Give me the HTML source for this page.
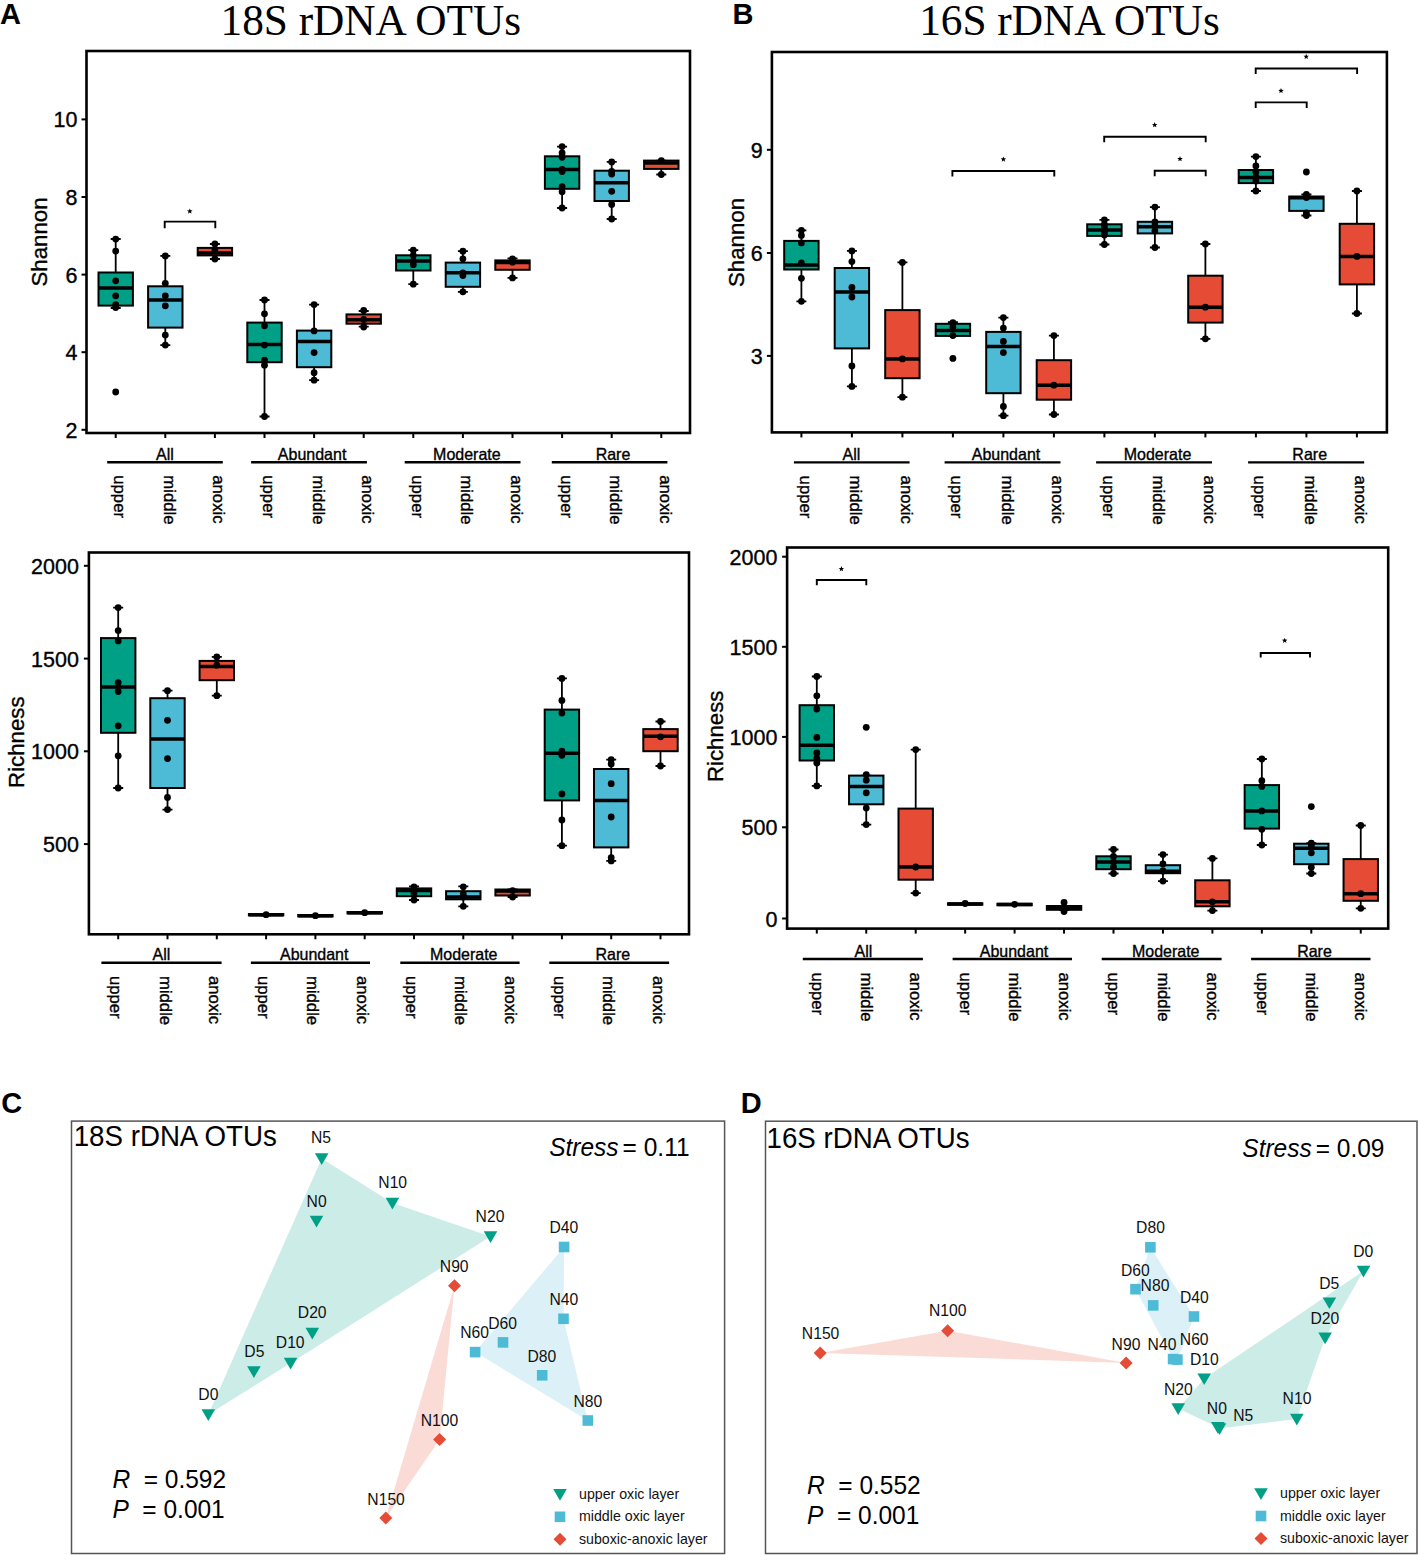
<!DOCTYPE html><html><head><meta charset="utf-8"><style>html,body{margin:0;padding:0;background:#fff;}svg{display:block;}</style></head><body>
<svg width="1418" height="1555" viewBox="0 0 1418 1555">
<rect width="1418" height="1555" fill="#fff"/>
<text x="0" y="23.9" font-size="29" font-weight="bold" font-family="Liberation Sans, sans-serif">A</text>
<text x="732.5" y="23.9" font-size="29" font-weight="bold" font-family="Liberation Sans, sans-serif">B</text>
<text x="1.3" y="1112.5" font-size="29" font-weight="bold" font-family="Liberation Sans, sans-serif">C</text>
<text x="740.7" y="1112.5" font-size="29" font-weight="bold" font-family="Liberation Sans, sans-serif">D</text>
<text transform="translate(220.5,35) scale(1,1.04)" font-size="43.3" font-family="Liberation Serif, serif">18S rDNA OTUs</text>
<text transform="translate(919.2,35) scale(1,1.04)" font-size="43.3" font-family="Liberation Serif, serif">16S rDNA OTUs</text>
<path d="M164.7 228.3V221.6H215.3V228.3" fill="none" stroke="#000" stroke-width="1.9"/>
<polygon points="189.8,208.4 190.53,210.29 192.56,210.4 190.99,211.69 191.5,213.65 189.8,212.55 188.1,213.65 188.61,211.69 187.04,210.4 189.07,210.29"/>
<path d="M115.7 239V272.5M115.7 305.6V308M110.7 239H120.7M110.7 308H120.7" stroke="#000" stroke-width="1.8" fill="none"/>
<rect x="98.5" y="272.5" width="34.4" height="33.1" fill="#00A087" stroke="#000" stroke-width="2"/>
<line x1="98.5" x2="132.9" y1="288" y2="288" stroke="#000" stroke-width="3.5"/>
<circle cx="115.7" cy="239.1" r="3.4"/>
<circle cx="115.7" cy="251.1" r="3.4"/>
<circle cx="115.7" cy="280.8" r="3.4"/>
<circle cx="115.7" cy="295.8" r="3.4"/>
<circle cx="115.7" cy="304.6" r="3.4"/>
<circle cx="115.7" cy="307.6" r="3.4"/>
<circle cx="115.7" cy="392" r="3.4"/>
<path d="M165.3 255.9V286.3M165.3 327.6V345.1M160.3 255.9H170.3M160.3 345.1H170.3" stroke="#000" stroke-width="1.8" fill="none"/>
<rect x="148.1" y="286.3" width="34.4" height="41.3" fill="#4DBBD5" stroke="#000" stroke-width="2"/>
<line x1="148.1" x2="182.5" y1="300" y2="300" stroke="#000" stroke-width="3.5"/>
<circle cx="165.3" cy="255.9" r="3.4"/>
<circle cx="165.3" cy="283.3" r="3.4"/>
<circle cx="165.3" cy="295.8" r="3.4"/>
<circle cx="165.3" cy="305.8" r="3.4"/>
<circle cx="165.3" cy="335.1" r="3.4"/>
<circle cx="165.3" cy="345.1" r="3.4"/>
<path d="M214.9 244V247.9M214.9 255.4V259M209.9 244H219.9M209.9 259H219.9" stroke="#000" stroke-width="1.8" fill="none"/>
<rect x="197.7" y="247.9" width="34.4" height="7.5" fill="#E64B35" stroke="#000" stroke-width="2"/>
<line x1="197.7" x2="232.1" y1="252.9" y2="252.9" stroke="#000" stroke-width="3.5"/>
<circle cx="214.9" cy="244" r="3.4"/>
<circle cx="214.9" cy="250" r="3.4"/>
<circle cx="214.9" cy="259" r="3.4"/>
<path d="M264.5 300V322.6M264.5 362.2V416.5M259.5 300H269.5M259.5 416.5H269.5" stroke="#000" stroke-width="1.8" fill="none"/>
<rect x="247.3" y="322.6" width="34.4" height="39.6" fill="#00A087" stroke="#000" stroke-width="2"/>
<line x1="247.3" x2="281.7" y1="344.6" y2="344.6" stroke="#000" stroke-width="3.5"/>
<circle cx="264.5" cy="300" r="3.4"/>
<circle cx="264.5" cy="313.8" r="3.4"/>
<circle cx="264.5" cy="325.8" r="3.4"/>
<circle cx="264.5" cy="345.1" r="3.4"/>
<circle cx="264.5" cy="360.2" r="3.4"/>
<circle cx="264.5" cy="365.2" r="3.4"/>
<circle cx="264.5" cy="416.5" r="3.4"/>
<path d="M314.1 304.6V330.6M314.1 367.2V380.2M309.1 304.6H319.1M309.1 380.2H319.1" stroke="#000" stroke-width="1.8" fill="none"/>
<rect x="296.9" y="330.6" width="34.4" height="36.6" fill="#4DBBD5" stroke="#000" stroke-width="2"/>
<line x1="296.9" x2="331.3" y1="341.4" y2="341.4" stroke="#000" stroke-width="3.5"/>
<circle cx="314.1" cy="304.6" r="3.4"/>
<circle cx="314.1" cy="330.9" r="3.4"/>
<circle cx="314.1" cy="352.6" r="3.4"/>
<circle cx="314.1" cy="372.7" r="3.4"/>
<circle cx="314.1" cy="380.2" r="3.4"/>
<path d="M363.7 311V314.4M363.7 323.7V326.7M358.7 311H368.7M358.7 326.7H368.7" stroke="#000" stroke-width="1.8" fill="none"/>
<rect x="346.5" y="314.4" width="34.4" height="9.3" fill="#E64B35" stroke="#000" stroke-width="2"/>
<line x1="346.5" x2="380.9" y1="319.7" y2="319.7" stroke="#000" stroke-width="3.5"/>
<circle cx="363.7" cy="310.5" r="3.4"/>
<circle cx="363.7" cy="319.5" r="3.4"/>
<circle cx="363.7" cy="327" r="3.4"/>
<path d="M413.3 250.2V255.3M413.3 270.5V284.2M408.3 250.2H418.3M408.3 284.2H418.3" stroke="#000" stroke-width="1.8" fill="none"/>
<rect x="396.1" y="255.3" width="34.4" height="15.2" fill="#00A087" stroke="#000" stroke-width="2"/>
<line x1="396.1" x2="430.5" y1="261" y2="261" stroke="#000" stroke-width="3.5"/>
<circle cx="413.3" cy="250.2" r="3.4"/>
<circle cx="413.3" cy="255.3" r="3.4"/>
<circle cx="413.3" cy="261" r="3.4"/>
<circle cx="413.3" cy="264.7" r="3.4"/>
<circle cx="413.3" cy="284.2" r="3.4"/>
<path d="M462.9 251.2V262.6M462.9 286.8V291.8M457.9 251.2H467.9M457.9 291.8H467.9" stroke="#000" stroke-width="1.8" fill="none"/>
<rect x="445.7" y="262.6" width="34.4" height="24.2" fill="#4DBBD5" stroke="#000" stroke-width="2"/>
<line x1="445.7" x2="480.1" y1="272.8" y2="272.8" stroke="#000" stroke-width="3.5"/>
<circle cx="462.9" cy="251.2" r="3.4"/>
<circle cx="462.9" cy="258.8" r="3.4"/>
<circle cx="462.9" cy="272.8" r="3.4"/>
<circle cx="462.9" cy="275.6" r="3.4"/>
<circle cx="462.9" cy="291.8" r="3.4"/>
<path d="M512.5 258.3V260.4M512.5 269.8V277.9M507.5 258.3H517.5M507.5 277.9H517.5" stroke="#000" stroke-width="1.8" fill="none"/>
<rect x="495.3" y="260.4" width="34.4" height="9.4" fill="#E64B35" stroke="#000" stroke-width="2"/>
<line x1="495.3" x2="529.7" y1="262.6" y2="262.6" stroke="#000" stroke-width="3.5"/>
<circle cx="512.5" cy="258.8" r="3.4"/>
<circle cx="512.5" cy="262.2" r="3.4"/>
<circle cx="512.5" cy="277.9" r="3.4"/>
<path d="M562.1 146.6V156.3M562.1 188.8V208M557.1 146.6H567.1M557.1 208H567.1" stroke="#000" stroke-width="1.8" fill="none"/>
<rect x="544.9" y="156.3" width="34.4" height="32.5" fill="#00A087" stroke="#000" stroke-width="2"/>
<line x1="544.9" x2="579.3" y1="169.5" y2="169.5" stroke="#000" stroke-width="3.5"/>
<circle cx="562.1" cy="146.6" r="3.4"/>
<circle cx="562.1" cy="153" r="3.4"/>
<circle cx="562.1" cy="157.3" r="3.4"/>
<circle cx="562.1" cy="169.5" r="3.4"/>
<circle cx="562.1" cy="171.5" r="3.4"/>
<circle cx="562.1" cy="186.7" r="3.4"/>
<circle cx="562.1" cy="191.8" r="3.4"/>
<circle cx="562.1" cy="208" r="3.4"/>
<path d="M611.7 161.9V170.7M611.7 201V219M606.7 161.9H616.7M606.7 219H616.7" stroke="#000" stroke-width="1.8" fill="none"/>
<rect x="594.5" y="170.7" width="34.4" height="30.3" fill="#4DBBD5" stroke="#000" stroke-width="2"/>
<line x1="594.5" x2="628.9" y1="182.7" y2="182.7" stroke="#000" stroke-width="3.5"/>
<circle cx="611.7" cy="161.9" r="3.4"/>
<circle cx="611.7" cy="171.5" r="3.4"/>
<circle cx="611.7" cy="174" r="3.4"/>
<circle cx="611.7" cy="191.3" r="3.4"/>
<circle cx="611.7" cy="204.5" r="3.4"/>
<circle cx="611.7" cy="219" r="3.4"/>
<path d="M661.3 160.6V160.6M661.3 168.9V174.5M656.3 160.6H666.3M656.3 174.5H666.3" stroke="#000" stroke-width="1.8" fill="none"/>
<rect x="644.1" y="160.6" width="34.4" height="8.3" fill="#E64B35" stroke="#000" stroke-width="2"/>
<line x1="644.1" x2="678.5" y1="162.9" y2="162.9" stroke="#000" stroke-width="3.5"/>
<circle cx="661.3" cy="160.6" r="3.4"/>
<circle cx="661.3" cy="174.5" r="3.4"/>
<rect x="86.5" y="51" width="603.5" height="382" fill="none" stroke="#000" stroke-width="2.6"/>
<line x1="81.5" x2="86.5" y1="119.4" y2="119.4" stroke="#000" stroke-width="2"/>
<text transform="translate(77.5,127.4) scale(1,1.045)" font-size="21.5" text-anchor="end" font-family="Liberation Sans, sans-serif" stroke="#000" stroke-width="0.35">10</text>
<line x1="81.5" x2="86.5" y1="197" y2="197" stroke="#000" stroke-width="2"/>
<text transform="translate(77.5,205) scale(1,1.045)" font-size="21.5" text-anchor="end" font-family="Liberation Sans, sans-serif" stroke="#000" stroke-width="0.35">8</text>
<line x1="81.5" x2="86.5" y1="274.6" y2="274.6" stroke="#000" stroke-width="2"/>
<text transform="translate(77.5,282.6) scale(1,1.045)" font-size="21.5" text-anchor="end" font-family="Liberation Sans, sans-serif" stroke="#000" stroke-width="0.35">6</text>
<line x1="81.5" x2="86.5" y1="352.2" y2="352.2" stroke="#000" stroke-width="2"/>
<text transform="translate(77.5,360.2) scale(1,1.045)" font-size="21.5" text-anchor="end" font-family="Liberation Sans, sans-serif" stroke="#000" stroke-width="0.35">4</text>
<line x1="81.5" x2="86.5" y1="429.8" y2="429.8" stroke="#000" stroke-width="2"/>
<text transform="translate(77.5,437.8) scale(1,1.045)" font-size="21.5" text-anchor="end" font-family="Liberation Sans, sans-serif" stroke="#000" stroke-width="0.35">2</text>
<line x1="115.7" x2="115.7" y1="433" y2="438" stroke="#000" stroke-width="2"/>
<line x1="165.3" x2="165.3" y1="433" y2="438" stroke="#000" stroke-width="2"/>
<line x1="214.9" x2="214.9" y1="433" y2="438" stroke="#000" stroke-width="2"/>
<line x1="264.5" x2="264.5" y1="433" y2="438" stroke="#000" stroke-width="2"/>
<line x1="314.1" x2="314.1" y1="433" y2="438" stroke="#000" stroke-width="2"/>
<line x1="363.7" x2="363.7" y1="433" y2="438" stroke="#000" stroke-width="2"/>
<line x1="413.3" x2="413.3" y1="433" y2="438" stroke="#000" stroke-width="2"/>
<line x1="462.9" x2="462.9" y1="433" y2="438" stroke="#000" stroke-width="2"/>
<line x1="512.5" x2="512.5" y1="433" y2="438" stroke="#000" stroke-width="2"/>
<line x1="562.1" x2="562.1" y1="433" y2="438" stroke="#000" stroke-width="2"/>
<line x1="611.7" x2="611.7" y1="433" y2="438" stroke="#000" stroke-width="2"/>
<line x1="661.3" x2="661.3" y1="433" y2="438" stroke="#000" stroke-width="2"/>
<text transform="translate(47.1,242) scale(1,1.035) rotate(-90)" font-size="21.5" text-anchor="middle" font-family="Liberation Sans, sans-serif" stroke="#000" stroke-width="0.35">Shannon</text>
<line x1="107.2" x2="222.8" y1="462.3" y2="462.3" stroke="#000" stroke-width="2.4"/>
<text transform="translate(165,459.5) scale(1,1.045)" font-size="16" text-anchor="middle" font-family="Liberation Sans, sans-serif" stroke="#000" stroke-width="0.35">All</text>
<line x1="251.1" x2="366.9" y1="462.3" y2="462.3" stroke="#000" stroke-width="2.4"/>
<text transform="translate(312.1,459.5) scale(1,1.045)" font-size="16" text-anchor="middle" font-family="Liberation Sans, sans-serif" stroke="#000" stroke-width="0.35">Abundant</text>
<line x1="404.7" x2="520.5" y1="462.3" y2="462.3" stroke="#000" stroke-width="2.4"/>
<text transform="translate(466.9,459.5) scale(1,1.045)" font-size="16" text-anchor="middle" font-family="Liberation Sans, sans-serif" stroke="#000" stroke-width="0.35">Moderate</text>
<line x1="551.8" x2="667.4" y1="462.3" y2="462.3" stroke="#000" stroke-width="2.4"/>
<text transform="translate(613,459.5) scale(1,1.045)" font-size="16" text-anchor="middle" font-family="Liberation Sans, sans-serif" stroke="#000" stroke-width="0.35">Rare</text>
<text transform="translate(114.2,475.3) scale(1,1.03) rotate(90)" font-size="16.2" font-family="Liberation Sans, sans-serif" stroke="#000" stroke-width="0.35">upper</text>
<text transform="translate(163.8,475.3) scale(1,1.03) rotate(90)" font-size="16.2" font-family="Liberation Sans, sans-serif" stroke="#000" stroke-width="0.35">middle</text>
<text transform="translate(213.4,475.3) scale(1,1.03) rotate(90)" font-size="16.2" font-family="Liberation Sans, sans-serif" stroke="#000" stroke-width="0.35">anoxic</text>
<text transform="translate(263,475.3) scale(1,1.03) rotate(90)" font-size="16.2" font-family="Liberation Sans, sans-serif" stroke="#000" stroke-width="0.35">upper</text>
<text transform="translate(312.6,475.3) scale(1,1.03) rotate(90)" font-size="16.2" font-family="Liberation Sans, sans-serif" stroke="#000" stroke-width="0.35">middle</text>
<text transform="translate(362.2,475.3) scale(1,1.03) rotate(90)" font-size="16.2" font-family="Liberation Sans, sans-serif" stroke="#000" stroke-width="0.35">anoxic</text>
<text transform="translate(411.8,475.3) scale(1,1.03) rotate(90)" font-size="16.2" font-family="Liberation Sans, sans-serif" stroke="#000" stroke-width="0.35">upper</text>
<text transform="translate(461.4,475.3) scale(1,1.03) rotate(90)" font-size="16.2" font-family="Liberation Sans, sans-serif" stroke="#000" stroke-width="0.35">middle</text>
<text transform="translate(511,475.3) scale(1,1.03) rotate(90)" font-size="16.2" font-family="Liberation Sans, sans-serif" stroke="#000" stroke-width="0.35">anoxic</text>
<text transform="translate(560.6,475.3) scale(1,1.03) rotate(90)" font-size="16.2" font-family="Liberation Sans, sans-serif" stroke="#000" stroke-width="0.35">upper</text>
<text transform="translate(610.2,475.3) scale(1,1.03) rotate(90)" font-size="16.2" font-family="Liberation Sans, sans-serif" stroke="#000" stroke-width="0.35">middle</text>
<text transform="translate(659.8,475.3) scale(1,1.03) rotate(90)" font-size="16.2" font-family="Liberation Sans, sans-serif" stroke="#000" stroke-width="0.35">anoxic</text>
<path d="M118.2 607.6V638.1M118.2 732.8V788M113.2 607.6H123.2M113.2 788H123.2" stroke="#000" stroke-width="1.8" fill="none"/>
<rect x="101" y="638.1" width="34.4" height="94.7" fill="#00A087" stroke="#000" stroke-width="2"/>
<line x1="101" x2="135.4" y1="687" y2="687" stroke="#000" stroke-width="3.5"/>
<circle cx="118.2" cy="607.6" r="3.4"/>
<circle cx="118.2" cy="630.6" r="3.4"/>
<circle cx="118.2" cy="640.9" r="3.4"/>
<circle cx="118.2" cy="682.7" r="3.4"/>
<circle cx="118.2" cy="691.5" r="3.4"/>
<circle cx="118.2" cy="725.8" r="3.4"/>
<circle cx="118.2" cy="755.8" r="3.4"/>
<circle cx="118.2" cy="788" r="3.4"/>
<path d="M167.5 690.7V698.2M167.5 788V809.6M162.5 690.7H172.5M162.5 809.6H172.5" stroke="#000" stroke-width="1.8" fill="none"/>
<rect x="150.3" y="698.2" width="34.4" height="89.8" fill="#4DBBD5" stroke="#000" stroke-width="2"/>
<line x1="150.3" x2="184.7" y1="739" y2="739" stroke="#000" stroke-width="3.5"/>
<circle cx="167.5" cy="690.7" r="3.4"/>
<circle cx="167.5" cy="720.3" r="3.4"/>
<circle cx="167.5" cy="758.6" r="3.4"/>
<circle cx="167.5" cy="797.5" r="3.4"/>
<circle cx="167.5" cy="809.6" r="3.4"/>
<path d="M216.8 656.9V660.9M216.8 680.2V695.7M211.8 656.9H221.8M211.8 695.7H221.8" stroke="#000" stroke-width="1.8" fill="none"/>
<rect x="199.6" y="660.9" width="34.4" height="19.3" fill="#E64B35" stroke="#000" stroke-width="2"/>
<line x1="199.6" x2="234" y1="666.4" y2="666.4" stroke="#000" stroke-width="3.5"/>
<circle cx="216.8" cy="656.9" r="3.4"/>
<circle cx="216.8" cy="665.2" r="3.4"/>
<circle cx="216.8" cy="695.7" r="3.4"/>
<path d="M266.1 914V914M266.1 915.4V915.4M261.1 914H271.1M261.1 915.4H271.1" stroke="#000" stroke-width="1.8" fill="none"/>
<rect x="248.9" y="914" width="34.4" height="1.4" fill="#00A087" stroke="#000" stroke-width="2"/>
<line x1="248.9" x2="283.3" y1="914.7" y2="914.7" stroke="#000" stroke-width="3.5"/>
<circle cx="266.1" cy="914.7" r="3.4"/>
<path d="M315.4 915V915M315.4 916.4V916.4M310.4 915H320.4M310.4 916.4H320.4" stroke="#000" stroke-width="1.8" fill="none"/>
<rect x="298.2" y="915" width="34.4" height="1.4" fill="#4DBBD5" stroke="#000" stroke-width="2"/>
<line x1="298.2" x2="332.6" y1="915.7" y2="915.7" stroke="#000" stroke-width="3.5"/>
<circle cx="315.4" cy="915.7" r="3.4"/>
<path d="M364.7 912V912M364.7 913.4V913.4M359.7 912H369.7M359.7 913.4H369.7" stroke="#000" stroke-width="1.8" fill="none"/>
<rect x="347.5" y="912" width="34.4" height="1.4" fill="#E64B35" stroke="#000" stroke-width="2"/>
<line x1="347.5" x2="381.9" y1="912.7" y2="912.7" stroke="#000" stroke-width="3.5"/>
<circle cx="364.7" cy="912.7" r="3.4"/>
<path d="M414 886.3V888.4M414 896.2V900M409 886.3H419M409 900H419" stroke="#000" stroke-width="1.8" fill="none"/>
<rect x="396.8" y="888.4" width="34.4" height="7.8" fill="#00A087" stroke="#000" stroke-width="2"/>
<line x1="396.8" x2="431.2" y1="890.6" y2="890.6" stroke="#000" stroke-width="3.5"/>
<circle cx="414" cy="886.8" r="3.4"/>
<circle cx="414" cy="890.6" r="3.4"/>
<circle cx="414" cy="893" r="3.4"/>
<circle cx="414" cy="900" r="3.4"/>
<path d="M463.3 886.3V891.2M463.3 899.3V906.3M458.3 886.3H468.3M458.3 906.3H468.3" stroke="#000" stroke-width="1.8" fill="none"/>
<rect x="446.1" y="891.2" width="34.4" height="8.1" fill="#4DBBD5" stroke="#000" stroke-width="2"/>
<line x1="446.1" x2="480.5" y1="897" y2="897" stroke="#000" stroke-width="3.5"/>
<circle cx="463.3" cy="886.8" r="3.4"/>
<circle cx="463.3" cy="894" r="3.4"/>
<circle cx="463.3" cy="897" r="3.4"/>
<circle cx="463.3" cy="906.3" r="3.4"/>
<path d="M512.6 889.5V889.5M512.6 895.5V897M507.6 889.5H517.6M507.6 897H517.6" stroke="#000" stroke-width="1.8" fill="none"/>
<rect x="495.4" y="889.5" width="34.4" height="6" fill="#E64B35" stroke="#000" stroke-width="2"/>
<line x1="495.4" x2="529.8" y1="891" y2="891" stroke="#000" stroke-width="3.5"/>
<circle cx="512.6" cy="890.6" r="3.4"/>
<circle cx="512.6" cy="897" r="3.4"/>
<path d="M561.9 678.4V709.6M561.9 800.4V845.7M556.9 678.4H566.9M556.9 845.7H566.9" stroke="#000" stroke-width="1.8" fill="none"/>
<rect x="544.7" y="709.6" width="34.4" height="90.8" fill="#00A087" stroke="#000" stroke-width="2"/>
<line x1="544.7" x2="579.1" y1="753.3" y2="753.3" stroke="#000" stroke-width="3.5"/>
<circle cx="561.9" cy="678.4" r="3.4"/>
<circle cx="561.9" cy="700.4" r="3.4"/>
<circle cx="561.9" cy="713.1" r="3.4"/>
<circle cx="561.9" cy="751.2" r="3.4"/>
<circle cx="561.9" cy="755.3" r="3.4"/>
<circle cx="561.9" cy="793.9" r="3.4"/>
<circle cx="561.9" cy="820" r="3.4"/>
<circle cx="561.9" cy="845.7" r="3.4"/>
<path d="M611.2 759.6V769M611.2 847.4V860.9M606.2 759.6H616.2M606.2 860.9H616.2" stroke="#000" stroke-width="1.8" fill="none"/>
<rect x="594" y="769" width="34.4" height="78.4" fill="#4DBBD5" stroke="#000" stroke-width="2"/>
<line x1="594" x2="628.4" y1="800.5" y2="800.5" stroke="#000" stroke-width="3.5"/>
<circle cx="611.2" cy="759.6" r="3.4"/>
<circle cx="611.2" cy="763.9" r="3.4"/>
<circle cx="611.2" cy="783.7" r="3.4"/>
<circle cx="611.2" cy="817" r="3.4"/>
<circle cx="611.2" cy="857.6" r="3.4"/>
<circle cx="611.2" cy="860.9" r="3.4"/>
<path d="M660.5 721.5V729.1M660.5 751.2V766M655.5 721.5H665.5M655.5 766H665.5" stroke="#000" stroke-width="1.8" fill="none"/>
<rect x="643.3" y="729.1" width="34.4" height="22.1" fill="#E64B35" stroke="#000" stroke-width="2"/>
<line x1="643.3" x2="677.7" y1="736.2" y2="736.2" stroke="#000" stroke-width="3.5"/>
<circle cx="660.5" cy="721.5" r="3.4"/>
<circle cx="660.5" cy="736.8" r="3.4"/>
<circle cx="660.5" cy="766" r="3.4"/>
<rect x="88.9" y="552.5" width="600.1" height="381.8" fill="none" stroke="#000" stroke-width="2.6"/>
<line x1="83.9" x2="88.9" y1="565.8" y2="565.8" stroke="#000" stroke-width="2"/>
<text transform="translate(78.9,573.8) scale(1,1.045)" font-size="21.5" text-anchor="end" font-family="Liberation Sans, sans-serif" stroke="#000" stroke-width="0.35">2000</text>
<line x1="83.9" x2="88.9" y1="658.6" y2="658.6" stroke="#000" stroke-width="2"/>
<text transform="translate(78.9,666.6) scale(1,1.045)" font-size="21.5" text-anchor="end" font-family="Liberation Sans, sans-serif" stroke="#000" stroke-width="0.35">1500</text>
<line x1="83.9" x2="88.9" y1="751.3" y2="751.3" stroke="#000" stroke-width="2"/>
<text transform="translate(78.9,759.3) scale(1,1.045)" font-size="21.5" text-anchor="end" font-family="Liberation Sans, sans-serif" stroke="#000" stroke-width="0.35">1000</text>
<line x1="83.9" x2="88.9" y1="844.1" y2="844.1" stroke="#000" stroke-width="2"/>
<text transform="translate(78.9,852.1) scale(1,1.045)" font-size="21.5" text-anchor="end" font-family="Liberation Sans, sans-serif" stroke="#000" stroke-width="0.35">500</text>
<line x1="118.2" x2="118.2" y1="934.3" y2="939.3" stroke="#000" stroke-width="2"/>
<line x1="167.5" x2="167.5" y1="934.3" y2="939.3" stroke="#000" stroke-width="2"/>
<line x1="216.8" x2="216.8" y1="934.3" y2="939.3" stroke="#000" stroke-width="2"/>
<line x1="266.1" x2="266.1" y1="934.3" y2="939.3" stroke="#000" stroke-width="2"/>
<line x1="315.4" x2="315.4" y1="934.3" y2="939.3" stroke="#000" stroke-width="2"/>
<line x1="364.7" x2="364.7" y1="934.3" y2="939.3" stroke="#000" stroke-width="2"/>
<line x1="414" x2="414" y1="934.3" y2="939.3" stroke="#000" stroke-width="2"/>
<line x1="463.3" x2="463.3" y1="934.3" y2="939.3" stroke="#000" stroke-width="2"/>
<line x1="512.6" x2="512.6" y1="934.3" y2="939.3" stroke="#000" stroke-width="2"/>
<line x1="561.9" x2="561.9" y1="934.3" y2="939.3" stroke="#000" stroke-width="2"/>
<line x1="611.2" x2="611.2" y1="934.3" y2="939.3" stroke="#000" stroke-width="2"/>
<line x1="660.5" x2="660.5" y1="934.3" y2="939.3" stroke="#000" stroke-width="2"/>
<text transform="translate(23.8,742.2) scale(1,1.035) rotate(-90)" font-size="21.5" text-anchor="middle" font-family="Liberation Sans, sans-serif" stroke="#000" stroke-width="0.35">Richness</text>
<line x1="101.4" x2="221.6" y1="962.8" y2="962.8" stroke="#000" stroke-width="2.4"/>
<text transform="translate(161.5,960.3) scale(1,1.045)" font-size="16" text-anchor="middle" font-family="Liberation Sans, sans-serif" stroke="#000" stroke-width="0.35">All</text>
<line x1="250.9" x2="370" y1="962.8" y2="962.8" stroke="#000" stroke-width="2.4"/>
<text transform="translate(314.2,960.3) scale(1,1.045)" font-size="16" text-anchor="middle" font-family="Liberation Sans, sans-serif" stroke="#000" stroke-width="0.35">Abundant</text>
<line x1="400.3" x2="519.6" y1="962.8" y2="962.8" stroke="#000" stroke-width="2.4"/>
<text transform="translate(463.7,960.3) scale(1,1.045)" font-size="16" text-anchor="middle" font-family="Liberation Sans, sans-serif" stroke="#000" stroke-width="0.35">Moderate</text>
<line x1="549.3" x2="669.1" y1="962.8" y2="962.8" stroke="#000" stroke-width="2.4"/>
<text transform="translate(612.8,960.3) scale(1,1.045)" font-size="16" text-anchor="middle" font-family="Liberation Sans, sans-serif" stroke="#000" stroke-width="0.35">Rare</text>
<text transform="translate(110.2,976) scale(1,1.03) rotate(90)" font-size="16.2" font-family="Liberation Sans, sans-serif" stroke="#000" stroke-width="0.35">upper</text>
<text transform="translate(159.5,976) scale(1,1.03) rotate(90)" font-size="16.2" font-family="Liberation Sans, sans-serif" stroke="#000" stroke-width="0.35">middle</text>
<text transform="translate(208.8,976) scale(1,1.03) rotate(90)" font-size="16.2" font-family="Liberation Sans, sans-serif" stroke="#000" stroke-width="0.35">anoxic</text>
<text transform="translate(258.1,976) scale(1,1.03) rotate(90)" font-size="16.2" font-family="Liberation Sans, sans-serif" stroke="#000" stroke-width="0.35">upper</text>
<text transform="translate(307.4,976) scale(1,1.03) rotate(90)" font-size="16.2" font-family="Liberation Sans, sans-serif" stroke="#000" stroke-width="0.35">middle</text>
<text transform="translate(356.7,976) scale(1,1.03) rotate(90)" font-size="16.2" font-family="Liberation Sans, sans-serif" stroke="#000" stroke-width="0.35">anoxic</text>
<text transform="translate(406,976) scale(1,1.03) rotate(90)" font-size="16.2" font-family="Liberation Sans, sans-serif" stroke="#000" stroke-width="0.35">upper</text>
<text transform="translate(455.3,976) scale(1,1.03) rotate(90)" font-size="16.2" font-family="Liberation Sans, sans-serif" stroke="#000" stroke-width="0.35">middle</text>
<text transform="translate(504.6,976) scale(1,1.03) rotate(90)" font-size="16.2" font-family="Liberation Sans, sans-serif" stroke="#000" stroke-width="0.35">anoxic</text>
<text transform="translate(553.9,976) scale(1,1.03) rotate(90)" font-size="16.2" font-family="Liberation Sans, sans-serif" stroke="#000" stroke-width="0.35">upper</text>
<text transform="translate(603.2,976) scale(1,1.03) rotate(90)" font-size="16.2" font-family="Liberation Sans, sans-serif" stroke="#000" stroke-width="0.35">middle</text>
<text transform="translate(652.5,976) scale(1,1.03) rotate(90)" font-size="16.2" font-family="Liberation Sans, sans-serif" stroke="#000" stroke-width="0.35">anoxic</text>
<path d="M952.4 176.5V171H1054.3V176.5" fill="none" stroke="#000" stroke-width="1.9"/>
<polygon points="1003.4,156.4 1004.13,158.29 1006.16,158.4 1004.59,159.69 1005.1,161.65 1003.4,160.55 1001.7,161.65 1002.21,159.69 1000.64,158.4 1002.67,158.29"/>
<path d="M1104.2 142.2V136.7H1205.7V142.2" fill="none" stroke="#000" stroke-width="1.9"/>
<polygon points="1154.7,122 1155.43,123.89 1157.46,124 1155.89,125.29 1156.4,127.25 1154.7,126.15 1153,127.25 1153.51,125.29 1151.94,124 1153.97,123.89"/>
<path d="M1154.7 176.3V170.8H1205.7V176.3" fill="none" stroke="#000" stroke-width="1.9"/>
<polygon points="1180,156.1 1180.73,157.99 1182.76,158.1 1181.19,159.39 1181.7,161.35 1180,160.25 1178.3,161.35 1178.81,159.39 1177.24,158.1 1179.27,157.99"/>
<path d="M1255.7 74V68.5H1357.1V74" fill="none" stroke="#000" stroke-width="1.9"/>
<polygon points="1306.2,53.8 1306.93,55.69 1308.96,55.8 1307.39,57.09 1307.9,59.05 1306.2,57.95 1304.5,59.05 1305.01,57.09 1303.44,55.8 1305.47,55.69"/>
<path d="M1255.7 107.9V102.4H1306.7V107.9" fill="none" stroke="#000" stroke-width="1.9"/>
<polygon points="1281,87.9 1281.73,89.79 1283.76,89.9 1282.19,91.19 1282.7,93.15 1281,92.05 1279.3,93.15 1279.81,91.19 1278.24,89.9 1280.27,89.79"/>
<path d="M801.4 230.3V240.9M801.4 269.5V301.3M796.4 230.3H806.4M796.4 301.3H806.4" stroke="#000" stroke-width="1.8" fill="none"/>
<rect x="784.2" y="240.9" width="34.4" height="28.6" fill="#00A087" stroke="#000" stroke-width="2"/>
<line x1="784.2" x2="818.6" y1="265" y2="265" stroke="#000" stroke-width="3.5"/>
<circle cx="801.4" cy="230.3" r="3.4"/>
<circle cx="801.4" cy="235.4" r="3.4"/>
<circle cx="801.4" cy="242.9" r="3.4"/>
<circle cx="801.4" cy="262.9" r="3.4"/>
<circle cx="801.4" cy="278.3" r="3.4"/>
<circle cx="801.4" cy="301.3" r="3.4"/>
<path d="M851.9 250.9V268M851.9 348.4V386.4M846.9 250.9H856.9M846.9 386.4H856.9" stroke="#000" stroke-width="1.8" fill="none"/>
<rect x="834.7" y="268" width="34.4" height="80.4" fill="#4DBBD5" stroke="#000" stroke-width="2"/>
<line x1="834.7" x2="869.1" y1="292" y2="292" stroke="#000" stroke-width="3.5"/>
<circle cx="851.9" cy="250.9" r="3.4"/>
<circle cx="851.9" cy="261.6" r="3.4"/>
<circle cx="851.9" cy="287.5" r="3.4"/>
<circle cx="851.9" cy="297" r="3.4"/>
<circle cx="851.9" cy="365.9" r="3.4"/>
<circle cx="851.9" cy="386.4" r="3.4"/>
<path d="M902.4 262.4V310.1M902.4 378.2V397.2M897.4 262.4H907.4M897.4 397.2H907.4" stroke="#000" stroke-width="1.8" fill="none"/>
<rect x="885.2" y="310.1" width="34.4" height="68.1" fill="#E64B35" stroke="#000" stroke-width="2"/>
<line x1="885.2" x2="919.6" y1="358.9" y2="358.9" stroke="#000" stroke-width="3.5"/>
<circle cx="902.4" cy="262.4" r="3.4"/>
<circle cx="902.4" cy="358.9" r="3.4"/>
<circle cx="902.4" cy="397.2" r="3.4"/>
<path d="M952.9 322.1V323.8M952.9 335.9V335.9M947.9 322.1H957.9M947.9 335.9H957.9" stroke="#000" stroke-width="1.8" fill="none"/>
<rect x="935.7" y="323.8" width="34.4" height="12.1" fill="#00A087" stroke="#000" stroke-width="2"/>
<line x1="935.7" x2="970.1" y1="330.6" y2="330.6" stroke="#000" stroke-width="3.5"/>
<circle cx="952.9" cy="322.6" r="3.4"/>
<circle cx="952.9" cy="327.1" r="3.4"/>
<circle cx="952.9" cy="335.6" r="3.4"/>
<circle cx="952.9" cy="358.4" r="3.4"/>
<path d="M1003.4 317.6V331.9M1003.4 393.2V415.7M998.4 317.6H1008.4M998.4 415.7H1008.4" stroke="#000" stroke-width="1.8" fill="none"/>
<rect x="986.2" y="331.9" width="34.4" height="61.3" fill="#4DBBD5" stroke="#000" stroke-width="2"/>
<line x1="986.2" x2="1020.6" y1="346.4" y2="346.4" stroke="#000" stroke-width="3.5"/>
<circle cx="1003.4" cy="317.6" r="3.4"/>
<circle cx="1003.4" cy="328.1" r="3.4"/>
<circle cx="1003.4" cy="341.4" r="3.4"/>
<circle cx="1003.4" cy="352.6" r="3.4"/>
<circle cx="1003.4" cy="406.5" r="3.4"/>
<circle cx="1003.4" cy="415.7" r="3.4"/>
<path d="M1053.9 335.6V360.2M1053.9 399.7V414.5M1048.9 335.6H1058.9M1048.9 414.5H1058.9" stroke="#000" stroke-width="1.8" fill="none"/>
<rect x="1036.7" y="360.2" width="34.4" height="39.5" fill="#E64B35" stroke="#000" stroke-width="2"/>
<line x1="1036.7" x2="1071.1" y1="385.2" y2="385.2" stroke="#000" stroke-width="3.5"/>
<circle cx="1053.9" cy="335.6" r="3.4"/>
<circle cx="1053.9" cy="385.2" r="3.4"/>
<circle cx="1053.9" cy="414.5" r="3.4"/>
<path d="M1104.4 219.8V224.3M1104.4 235.9V244.5M1099.4 219.8H1109.4M1099.4 244.5H1109.4" stroke="#000" stroke-width="1.8" fill="none"/>
<rect x="1087.2" y="224.3" width="34.4" height="11.6" fill="#00A087" stroke="#000" stroke-width="2"/>
<line x1="1087.2" x2="1121.6" y1="230" y2="230" stroke="#000" stroke-width="3.5"/>
<circle cx="1104.4" cy="219.8" r="3.4"/>
<circle cx="1104.4" cy="224.5" r="3.4"/>
<circle cx="1104.4" cy="228" r="3.4"/>
<circle cx="1104.4" cy="232" r="3.4"/>
<circle cx="1104.4" cy="235" r="3.4"/>
<circle cx="1104.4" cy="244.5" r="3.4"/>
<path d="M1154.9 207.1V221.8M1154.9 233.4V247.5M1149.9 207.1H1159.9M1149.9 247.5H1159.9" stroke="#000" stroke-width="1.8" fill="none"/>
<rect x="1137.7" y="221.8" width="34.4" height="11.6" fill="#4DBBD5" stroke="#000" stroke-width="2"/>
<line x1="1137.7" x2="1172.1" y1="226.8" y2="226.8" stroke="#000" stroke-width="3.5"/>
<circle cx="1154.9" cy="207.1" r="3.4"/>
<circle cx="1154.9" cy="222" r="3.4"/>
<circle cx="1154.9" cy="226" r="3.4"/>
<circle cx="1154.9" cy="231" r="3.4"/>
<circle cx="1154.9" cy="247.5" r="3.4"/>
<path d="M1205.4 244V275.7M1205.4 322.6V338.8M1200.4 244H1210.4M1200.4 338.8H1210.4" stroke="#000" stroke-width="1.8" fill="none"/>
<rect x="1188.2" y="275.7" width="34.4" height="46.9" fill="#E64B35" stroke="#000" stroke-width="2"/>
<line x1="1188.2" x2="1222.6" y1="307.2" y2="307.2" stroke="#000" stroke-width="3.5"/>
<circle cx="1205.4" cy="244" r="3.4"/>
<circle cx="1205.4" cy="307.2" r="3.4"/>
<circle cx="1205.4" cy="338.8" r="3.4"/>
<path d="M1255.9 156.6V170M1255.9 183.1V191M1250.9 156.6H1260.9M1250.9 191H1260.9" stroke="#000" stroke-width="1.8" fill="none"/>
<rect x="1238.7" y="170" width="34.4" height="13.1" fill="#00A087" stroke="#000" stroke-width="2"/>
<line x1="1238.7" x2="1273.1" y1="177.6" y2="177.6" stroke="#000" stroke-width="3.5"/>
<circle cx="1255.9" cy="156.6" r="3.4"/>
<circle cx="1255.9" cy="166" r="3.4"/>
<circle cx="1255.9" cy="172" r="3.4"/>
<circle cx="1255.9" cy="177" r="3.4"/>
<circle cx="1255.9" cy="181" r="3.4"/>
<circle cx="1255.9" cy="191" r="3.4"/>
<path d="M1306.4 194.5V196.5M1306.4 210.9V215.5M1301.4 194.5H1311.4M1301.4 215.5H1311.4" stroke="#000" stroke-width="1.8" fill="none"/>
<rect x="1289.2" y="196.5" width="34.4" height="14.4" fill="#4DBBD5" stroke="#000" stroke-width="2"/>
<line x1="1289.2" x2="1323.6" y1="197.8" y2="197.8" stroke="#000" stroke-width="3.5"/>
<circle cx="1306.4" cy="194.5" r="3.4"/>
<circle cx="1306.4" cy="197.5" r="3.4"/>
<circle cx="1306.4" cy="213" r="3.4"/>
<circle cx="1306.4" cy="215.5" r="3.4"/>
<circle cx="1306.4" cy="172" r="3.4"/>
<path d="M1356.9 191V223.8M1356.9 284.4V313.5M1351.9 191H1361.9M1351.9 313.5H1361.9" stroke="#000" stroke-width="1.8" fill="none"/>
<rect x="1339.7" y="223.8" width="34.4" height="60.6" fill="#E64B35" stroke="#000" stroke-width="2"/>
<line x1="1339.7" x2="1374.1" y1="256.4" y2="256.4" stroke="#000" stroke-width="3.5"/>
<circle cx="1356.9" cy="191" r="3.4"/>
<circle cx="1356.9" cy="256.4" r="3.4"/>
<circle cx="1356.9" cy="313.5" r="3.4"/>
<rect x="771.9" y="52" width="615" height="380.4" fill="none" stroke="#000" stroke-width="2.6"/>
<line x1="766.9" x2="771.9" y1="149.8" y2="149.8" stroke="#000" stroke-width="2"/>
<text transform="translate(762.7,157.8) scale(1,1.045)" font-size="21.5" text-anchor="end" font-family="Liberation Sans, sans-serif" stroke="#000" stroke-width="0.35">9</text>
<line x1="766.9" x2="771.9" y1="253" y2="253" stroke="#000" stroke-width="2"/>
<text transform="translate(762.7,261) scale(1,1.045)" font-size="21.5" text-anchor="end" font-family="Liberation Sans, sans-serif" stroke="#000" stroke-width="0.35">6</text>
<line x1="766.9" x2="771.9" y1="355.9" y2="355.9" stroke="#000" stroke-width="2"/>
<text transform="translate(762.7,363.9) scale(1,1.045)" font-size="21.5" text-anchor="end" font-family="Liberation Sans, sans-serif" stroke="#000" stroke-width="0.35">3</text>
<line x1="801.4" x2="801.4" y1="432.4" y2="437.4" stroke="#000" stroke-width="2"/>
<line x1="851.9" x2="851.9" y1="432.4" y2="437.4" stroke="#000" stroke-width="2"/>
<line x1="902.4" x2="902.4" y1="432.4" y2="437.4" stroke="#000" stroke-width="2"/>
<line x1="952.9" x2="952.9" y1="432.4" y2="437.4" stroke="#000" stroke-width="2"/>
<line x1="1003.4" x2="1003.4" y1="432.4" y2="437.4" stroke="#000" stroke-width="2"/>
<line x1="1053.9" x2="1053.9" y1="432.4" y2="437.4" stroke="#000" stroke-width="2"/>
<line x1="1104.4" x2="1104.4" y1="432.4" y2="437.4" stroke="#000" stroke-width="2"/>
<line x1="1154.9" x2="1154.9" y1="432.4" y2="437.4" stroke="#000" stroke-width="2"/>
<line x1="1205.4" x2="1205.4" y1="432.4" y2="437.4" stroke="#000" stroke-width="2"/>
<line x1="1255.9" x2="1255.9" y1="432.4" y2="437.4" stroke="#000" stroke-width="2"/>
<line x1="1306.4" x2="1306.4" y1="432.4" y2="437.4" stroke="#000" stroke-width="2"/>
<line x1="1356.9" x2="1356.9" y1="432.4" y2="437.4" stroke="#000" stroke-width="2"/>
<text transform="translate(744.2,242.5) scale(1,1.035) rotate(-90)" font-size="21.5" text-anchor="middle" font-family="Liberation Sans, sans-serif" stroke="#000" stroke-width="0.35">Shannon</text>
<line x1="793.9" x2="909.6" y1="462.4" y2="462.4" stroke="#000" stroke-width="2.4"/>
<text transform="translate(851.5,459.5) scale(1,1.045)" font-size="16" text-anchor="middle" font-family="Liberation Sans, sans-serif" stroke="#000" stroke-width="0.35">All</text>
<line x1="944.6" x2="1060.5" y1="462.4" y2="462.4" stroke="#000" stroke-width="2.4"/>
<text transform="translate(1006,459.5) scale(1,1.045)" font-size="16" text-anchor="middle" font-family="Liberation Sans, sans-serif" stroke="#000" stroke-width="0.35">Abundant</text>
<line x1="1096.1" x2="1212" y1="462.4" y2="462.4" stroke="#000" stroke-width="2.4"/>
<text transform="translate(1157.5,459.5) scale(1,1.045)" font-size="16" text-anchor="middle" font-family="Liberation Sans, sans-serif" stroke="#000" stroke-width="0.35">Moderate</text>
<line x1="1248.1" x2="1364.2" y1="462.4" y2="462.4" stroke="#000" stroke-width="2.4"/>
<text transform="translate(1309.7,459.5) scale(1,1.045)" font-size="16" text-anchor="middle" font-family="Liberation Sans, sans-serif" stroke="#000" stroke-width="0.35">Rare</text>
<text transform="translate(799.9,475.6) scale(1,1.03) rotate(90)" font-size="16.2" font-family="Liberation Sans, sans-serif" stroke="#000" stroke-width="0.35">upper</text>
<text transform="translate(850.4,475.6) scale(1,1.03) rotate(90)" font-size="16.2" font-family="Liberation Sans, sans-serif" stroke="#000" stroke-width="0.35">middle</text>
<text transform="translate(900.9,475.6) scale(1,1.03) rotate(90)" font-size="16.2" font-family="Liberation Sans, sans-serif" stroke="#000" stroke-width="0.35">anoxic</text>
<text transform="translate(951.4,475.6) scale(1,1.03) rotate(90)" font-size="16.2" font-family="Liberation Sans, sans-serif" stroke="#000" stroke-width="0.35">upper</text>
<text transform="translate(1001.9,475.6) scale(1,1.03) rotate(90)" font-size="16.2" font-family="Liberation Sans, sans-serif" stroke="#000" stroke-width="0.35">middle</text>
<text transform="translate(1052.4,475.6) scale(1,1.03) rotate(90)" font-size="16.2" font-family="Liberation Sans, sans-serif" stroke="#000" stroke-width="0.35">anoxic</text>
<text transform="translate(1102.9,475.6) scale(1,1.03) rotate(90)" font-size="16.2" font-family="Liberation Sans, sans-serif" stroke="#000" stroke-width="0.35">upper</text>
<text transform="translate(1153.4,475.6) scale(1,1.03) rotate(90)" font-size="16.2" font-family="Liberation Sans, sans-serif" stroke="#000" stroke-width="0.35">middle</text>
<text transform="translate(1203.9,475.6) scale(1,1.03) rotate(90)" font-size="16.2" font-family="Liberation Sans, sans-serif" stroke="#000" stroke-width="0.35">anoxic</text>
<text transform="translate(1254.4,475.6) scale(1,1.03) rotate(90)" font-size="16.2" font-family="Liberation Sans, sans-serif" stroke="#000" stroke-width="0.35">upper</text>
<text transform="translate(1304.9,475.6) scale(1,1.03) rotate(90)" font-size="16.2" font-family="Liberation Sans, sans-serif" stroke="#000" stroke-width="0.35">middle</text>
<text transform="translate(1355.4,475.6) scale(1,1.03) rotate(90)" font-size="16.2" font-family="Liberation Sans, sans-serif" stroke="#000" stroke-width="0.35">anoxic</text>
<path d="M816.8 585.3V580H866.3V585.3" fill="none" stroke="#000" stroke-width="1.9"/>
<polygon points="841.4,566 842.13,567.89 844.16,568 842.59,569.29 843.1,571.25 841.4,570.15 839.7,571.25 840.21,569.29 838.64,568 840.67,567.89"/>
<path d="M1260.7 657.5V653H1310V657.5" fill="none" stroke="#000" stroke-width="1.9"/>
<polygon points="1284.7,637.7 1285.43,639.59 1287.46,639.7 1285.89,640.99 1286.4,642.95 1284.7,641.85 1283,642.95 1283.51,640.99 1281.94,639.7 1283.97,639.59"/>
<path d="M816.8 676.5V705.2M816.8 760.5V785.9M811.8 676.5H821.8M811.8 785.9H821.8" stroke="#000" stroke-width="1.8" fill="none"/>
<rect x="799.6" y="705.2" width="34.4" height="55.3" fill="#00A087" stroke="#000" stroke-width="2"/>
<line x1="799.6" x2="834" y1="745.3" y2="745.3" stroke="#000" stroke-width="3.5"/>
<circle cx="816.8" cy="676.5" r="3.4"/>
<circle cx="816.8" cy="695.8" r="3.4"/>
<circle cx="816.8" cy="709" r="3.4"/>
<circle cx="816.8" cy="737.4" r="3.4"/>
<circle cx="816.8" cy="752.9" r="3.4"/>
<circle cx="816.8" cy="758.5" r="3.4"/>
<circle cx="816.8" cy="763" r="3.4"/>
<circle cx="816.8" cy="785.9" r="3.4"/>
<path d="M866.25 775.6V775.6M866.25 804.3V824.6M861.25 775.6H871.25M861.25 824.6H871.25" stroke="#000" stroke-width="1.8" fill="none"/>
<rect x="849.05" y="775.6" width="34.4" height="28.7" fill="#4DBBD5" stroke="#000" stroke-width="2"/>
<line x1="849.05" x2="883.45" y1="786.5" y2="786.5" stroke="#000" stroke-width="3.5"/>
<circle cx="866.25" cy="774.6" r="3.4"/>
<circle cx="866.25" cy="780.2" r="3.4"/>
<circle cx="866.25" cy="792.8" r="3.4"/>
<circle cx="866.25" cy="808.1" r="3.4"/>
<circle cx="866.25" cy="824.6" r="3.4"/>
<circle cx="866.25" cy="727.3" r="3.4"/>
<path d="M915.7 749.6V808.6M915.7 879.7V893.1M910.7 749.6H920.7M910.7 893.1H920.7" stroke="#000" stroke-width="1.8" fill="none"/>
<rect x="898.5" y="808.6" width="34.4" height="71.1" fill="#E64B35" stroke="#000" stroke-width="2"/>
<line x1="898.5" x2="932.9" y1="867" y2="867" stroke="#000" stroke-width="3.5"/>
<circle cx="915.7" cy="749.6" r="3.4"/>
<circle cx="915.7" cy="867" r="3.4"/>
<circle cx="915.7" cy="893.1" r="3.4"/>
<path d="M965.15 903.3V903.3M965.15 904.7V904.7M960.15 903.3H970.15M960.15 904.7H970.15" stroke="#000" stroke-width="1.8" fill="none"/>
<rect x="947.95" y="903.3" width="34.4" height="1.4" fill="#00A087" stroke="#000" stroke-width="2"/>
<line x1="947.95" x2="982.35" y1="904" y2="904" stroke="#000" stroke-width="3.5"/>
<circle cx="965.15" cy="903.5" r="3.4"/>
<path d="M1014.6 903.8V903.8M1014.6 905.2V905.2M1009.6 903.8H1019.6M1009.6 905.2H1019.6" stroke="#000" stroke-width="1.8" fill="none"/>
<rect x="997.4" y="903.8" width="34.4" height="1.4" fill="#4DBBD5" stroke="#000" stroke-width="2"/>
<line x1="997.4" x2="1031.8" y1="904.5" y2="904.5" stroke="#000" stroke-width="3.5"/>
<circle cx="1014.6" cy="904.3" r="3.4"/>
<path d="M1064.05 906V906M1064.05 909.8V909.8M1059.05 906H1069.05M1059.05 909.8H1069.05" stroke="#000" stroke-width="1.8" fill="none"/>
<rect x="1046.85" y="906" width="34.4" height="3.8" fill="#E64B35" stroke="#000" stroke-width="2"/>
<line x1="1046.85" x2="1081.25" y1="907.9" y2="907.9" stroke="#000" stroke-width="3.5"/>
<circle cx="1064.05" cy="902.5" r="3.4"/>
<circle cx="1064.05" cy="907.9" r="3.4"/>
<circle cx="1064.05" cy="911.5" r="3.4"/>
<path d="M1113.5 849.5V856.3M1113.5 869.2V873.5M1108.5 849.5H1118.5M1108.5 873.5H1118.5" stroke="#000" stroke-width="1.8" fill="none"/>
<rect x="1096.3" y="856.3" width="34.4" height="12.9" fill="#00A087" stroke="#000" stroke-width="2"/>
<line x1="1096.3" x2="1130.7" y1="862.1" y2="862.1" stroke="#000" stroke-width="3.5"/>
<circle cx="1113.5" cy="849.5" r="3.4"/>
<circle cx="1113.5" cy="856.5" r="3.4"/>
<circle cx="1113.5" cy="862.1" r="3.4"/>
<circle cx="1113.5" cy="867" r="3.4"/>
<circle cx="1113.5" cy="873.5" r="3.4"/>
<path d="M1162.95 854.6V865.2M1162.95 873.2V881.1M1157.95 854.6H1167.95M1157.95 881.1H1167.95" stroke="#000" stroke-width="1.8" fill="none"/>
<rect x="1145.75" y="865.2" width="34.4" height="8" fill="#4DBBD5" stroke="#000" stroke-width="2"/>
<line x1="1145.75" x2="1180.15" y1="871.2" y2="871.2" stroke="#000" stroke-width="3.5"/>
<circle cx="1162.95" cy="854.6" r="3.4"/>
<circle cx="1162.95" cy="864" r="3.4"/>
<circle cx="1162.95" cy="871" r="3.4"/>
<circle cx="1162.95" cy="881.1" r="3.4"/>
<path d="M1212.4 858.4V880.3M1212.4 906.3V910.6M1207.4 858.4H1217.4M1207.4 910.6H1217.4" stroke="#000" stroke-width="1.8" fill="none"/>
<rect x="1195.2" y="880.3" width="34.4" height="26" fill="#E64B35" stroke="#000" stroke-width="2"/>
<line x1="1195.2" x2="1229.6" y1="901.8" y2="901.8" stroke="#000" stroke-width="3.5"/>
<circle cx="1212.4" cy="858.4" r="3.4"/>
<circle cx="1212.4" cy="901.8" r="3.4"/>
<circle cx="1212.4" cy="910.6" r="3.4"/>
<path d="M1261.85 759V785.1M1261.85 828.6V845M1256.85 759H1266.85M1256.85 845H1266.85" stroke="#000" stroke-width="1.8" fill="none"/>
<rect x="1244.65" y="785.1" width="34.4" height="43.5" fill="#00A087" stroke="#000" stroke-width="2"/>
<line x1="1244.65" x2="1279.05" y1="810.9" y2="810.9" stroke="#000" stroke-width="3.5"/>
<circle cx="1261.85" cy="759" r="3.4"/>
<circle cx="1261.85" cy="780.7" r="3.4"/>
<circle cx="1261.85" cy="786.4" r="3.4"/>
<circle cx="1261.85" cy="810.9" r="3.4"/>
<circle cx="1261.85" cy="829.3" r="3.4"/>
<circle cx="1261.85" cy="845" r="3.4"/>
<path d="M1311.3 843.2V843.7M1311.3 864.2V873.5M1306.3 843.2H1316.3M1306.3 873.5H1316.3" stroke="#000" stroke-width="1.8" fill="none"/>
<rect x="1294.1" y="843.7" width="34.4" height="20.5" fill="#4DBBD5" stroke="#000" stroke-width="2"/>
<line x1="1294.1" x2="1328.5" y1="848.3" y2="848.3" stroke="#000" stroke-width="3.5"/>
<circle cx="1311.3" cy="843.2" r="3.4"/>
<circle cx="1311.3" cy="845.7" r="3.4"/>
<circle cx="1311.3" cy="852.8" r="3.4"/>
<circle cx="1311.3" cy="867.2" r="3.4"/>
<circle cx="1311.3" cy="873.5" r="3.4"/>
<circle cx="1311.3" cy="806.6" r="3.4"/>
<path d="M1360.75 825.5V859.1M1360.75 900.8V908.3M1355.75 825.5H1365.75M1355.75 908.3H1365.75" stroke="#000" stroke-width="1.8" fill="none"/>
<rect x="1343.55" y="859.1" width="34.4" height="41.7" fill="#E64B35" stroke="#000" stroke-width="2"/>
<line x1="1343.55" x2="1377.95" y1="893.7" y2="893.7" stroke="#000" stroke-width="3.5"/>
<circle cx="1360.75" cy="825.5" r="3.4"/>
<circle cx="1360.75" cy="893.7" r="3.4"/>
<circle cx="1360.75" cy="908.3" r="3.4"/>
<rect x="787.1" y="547.5" width="601.1" height="381.1" fill="none" stroke="#000" stroke-width="2.6"/>
<line x1="782.1" x2="787.1" y1="556.7" y2="556.7" stroke="#000" stroke-width="2"/>
<text transform="translate(777.4,564.7) scale(1,1.045)" font-size="21.5" text-anchor="end" font-family="Liberation Sans, sans-serif" stroke="#000" stroke-width="0.35">2000</text>
<line x1="782.1" x2="787.1" y1="646.8" y2="646.8" stroke="#000" stroke-width="2"/>
<text transform="translate(777.4,654.8) scale(1,1.045)" font-size="21.5" text-anchor="end" font-family="Liberation Sans, sans-serif" stroke="#000" stroke-width="0.35">1500</text>
<line x1="782.1" x2="787.1" y1="736.9" y2="736.9" stroke="#000" stroke-width="2"/>
<text transform="translate(777.4,744.9) scale(1,1.045)" font-size="21.5" text-anchor="end" font-family="Liberation Sans, sans-serif" stroke="#000" stroke-width="0.35">1000</text>
<line x1="782.1" x2="787.1" y1="827.3" y2="827.3" stroke="#000" stroke-width="2"/>
<text transform="translate(777.4,835.3) scale(1,1.045)" font-size="21.5" text-anchor="end" font-family="Liberation Sans, sans-serif" stroke="#000" stroke-width="0.35">500</text>
<line x1="782.1" x2="787.1" y1="918.5" y2="918.5" stroke="#000" stroke-width="2"/>
<text transform="translate(777.4,926.5) scale(1,1.045)" font-size="21.5" text-anchor="end" font-family="Liberation Sans, sans-serif" stroke="#000" stroke-width="0.35">0</text>
<line x1="816.8" x2="816.8" y1="928.6" y2="933.6" stroke="#000" stroke-width="2"/>
<line x1="866.25" x2="866.25" y1="928.6" y2="933.6" stroke="#000" stroke-width="2"/>
<line x1="915.7" x2="915.7" y1="928.6" y2="933.6" stroke="#000" stroke-width="2"/>
<line x1="965.15" x2="965.15" y1="928.6" y2="933.6" stroke="#000" stroke-width="2"/>
<line x1="1014.6" x2="1014.6" y1="928.6" y2="933.6" stroke="#000" stroke-width="2"/>
<line x1="1064.05" x2="1064.05" y1="928.6" y2="933.6" stroke="#000" stroke-width="2"/>
<line x1="1113.5" x2="1113.5" y1="928.6" y2="933.6" stroke="#000" stroke-width="2"/>
<line x1="1162.95" x2="1162.95" y1="928.6" y2="933.6" stroke="#000" stroke-width="2"/>
<line x1="1212.4" x2="1212.4" y1="928.6" y2="933.6" stroke="#000" stroke-width="2"/>
<line x1="1261.85" x2="1261.85" y1="928.6" y2="933.6" stroke="#000" stroke-width="2"/>
<line x1="1311.3" x2="1311.3" y1="928.6" y2="933.6" stroke="#000" stroke-width="2"/>
<line x1="1360.75" x2="1360.75" y1="928.6" y2="933.6" stroke="#000" stroke-width="2"/>
<text transform="translate(722.8,736.3) scale(1,1.035) rotate(-90)" font-size="21.5" text-anchor="middle" font-family="Liberation Sans, sans-serif" stroke="#000" stroke-width="0.35">Richness</text>
<line x1="802.8" x2="922.9" y1="959" y2="959" stroke="#000" stroke-width="2.4"/>
<text transform="translate(863.4,957) scale(1,1.045)" font-size="16" text-anchor="middle" font-family="Liberation Sans, sans-serif" stroke="#000" stroke-width="0.35">All</text>
<line x1="952.6" x2="1072" y1="959" y2="959" stroke="#000" stroke-width="2.4"/>
<text transform="translate(1014,957) scale(1,1.045)" font-size="16" text-anchor="middle" font-family="Liberation Sans, sans-serif" stroke="#000" stroke-width="0.35">Abundant</text>
<line x1="1101.7" x2="1221.6" y1="959" y2="959" stroke="#000" stroke-width="2.4"/>
<text transform="translate(1165.7,957) scale(1,1.045)" font-size="16" text-anchor="middle" font-family="Liberation Sans, sans-serif" stroke="#000" stroke-width="0.35">Moderate</text>
<line x1="1251.1" x2="1370.5" y1="959" y2="959" stroke="#000" stroke-width="2.4"/>
<text transform="translate(1314.5,957) scale(1,1.045)" font-size="16" text-anchor="middle" font-family="Liberation Sans, sans-serif" stroke="#000" stroke-width="0.35">Rare</text>
<text transform="translate(811.5,972.5) scale(1,1.03) rotate(90)" font-size="16.2" font-family="Liberation Sans, sans-serif" stroke="#000" stroke-width="0.35">upper</text>
<text transform="translate(860.95,972.5) scale(1,1.03) rotate(90)" font-size="16.2" font-family="Liberation Sans, sans-serif" stroke="#000" stroke-width="0.35">middle</text>
<text transform="translate(910.4,972.5) scale(1,1.03) rotate(90)" font-size="16.2" font-family="Liberation Sans, sans-serif" stroke="#000" stroke-width="0.35">anoxic</text>
<text transform="translate(959.85,972.5) scale(1,1.03) rotate(90)" font-size="16.2" font-family="Liberation Sans, sans-serif" stroke="#000" stroke-width="0.35">upper</text>
<text transform="translate(1009.3,972.5) scale(1,1.03) rotate(90)" font-size="16.2" font-family="Liberation Sans, sans-serif" stroke="#000" stroke-width="0.35">middle</text>
<text transform="translate(1058.75,972.5) scale(1,1.03) rotate(90)" font-size="16.2" font-family="Liberation Sans, sans-serif" stroke="#000" stroke-width="0.35">anoxic</text>
<text transform="translate(1108.2,972.5) scale(1,1.03) rotate(90)" font-size="16.2" font-family="Liberation Sans, sans-serif" stroke="#000" stroke-width="0.35">upper</text>
<text transform="translate(1157.65,972.5) scale(1,1.03) rotate(90)" font-size="16.2" font-family="Liberation Sans, sans-serif" stroke="#000" stroke-width="0.35">middle</text>
<text transform="translate(1207.1,972.5) scale(1,1.03) rotate(90)" font-size="16.2" font-family="Liberation Sans, sans-serif" stroke="#000" stroke-width="0.35">anoxic</text>
<text transform="translate(1256.55,972.5) scale(1,1.03) rotate(90)" font-size="16.2" font-family="Liberation Sans, sans-serif" stroke="#000" stroke-width="0.35">upper</text>
<text transform="translate(1306,972.5) scale(1,1.03) rotate(90)" font-size="16.2" font-family="Liberation Sans, sans-serif" stroke="#000" stroke-width="0.35">middle</text>
<text transform="translate(1355.45,972.5) scale(1,1.03) rotate(90)" font-size="16.2" font-family="Liberation Sans, sans-serif" stroke="#000" stroke-width="0.35">anoxic</text>
<polygon points="321.7,1158.5 392.4,1203 490.5,1236.5 290.6,1363 208.3,1414.5" fill="#CCECE7"/>
<polygon points="564.1,1247 563.5,1318.8 587.8,1420.5 475.1,1352.1" fill="#DBF1F7"/>
<polygon points="454.5,1285.8 439.6,1439.5 385.8,1518" fill="#FADBD5"/>
<path d="M314.9 1153.3H328.5L321.7 1165Z" fill="#00A087"/>
<path d="M385.6 1197.8H399.2L392.4 1209.5Z" fill="#00A087"/>
<path d="M309.7 1215.8H323.3L316.5 1227.5Z" fill="#00A087"/>
<path d="M483.7 1231.3H497.3L490.5 1243Z" fill="#00A087"/>
<path d="M305.5 1327.8H319.1L312.3 1339.5Z" fill="#00A087"/>
<path d="M247.1 1366.3H260.7L253.9 1378Z" fill="#00A087"/>
<path d="M283.8 1357.8H297.4L290.6 1369.5Z" fill="#00A087"/>
<path d="M201.5 1409.3H215.1L208.3 1421Z" fill="#00A087"/>
<rect x="558.8" y="1241.7" width="10.6" height="10.6" fill="#4DBBD5"/>
<rect x="558.2" y="1313.5" width="10.6" height="10.6" fill="#4DBBD5"/>
<rect x="469.8" y="1346.8" width="10.6" height="10.6" fill="#4DBBD5"/>
<rect x="497.7" y="1337.1" width="10.6" height="10.6" fill="#4DBBD5"/>
<rect x="536.9" y="1370" width="10.6" height="10.6" fill="#4DBBD5"/>
<rect x="582.5" y="1415.2" width="10.6" height="10.6" fill="#4DBBD5"/>
<path d="M454.5 1279.3L461 1285.8L454.5 1292.3L448 1285.8Z" fill="#E64B35"/>
<path d="M439.6 1433L446.1 1439.5L439.6 1446L433.1 1439.5Z" fill="#E64B35"/>
<path d="M385.8 1511.5L392.3 1518L385.8 1524.5L379.3 1518Z" fill="#E64B35"/>
<text x="321" y="1143.2" font-size="15.7" text-anchor="middle" fill="#111" font-family="Liberation Sans, sans-serif">N5</text>
<text x="392.7" y="1187.9" font-size="15.7" text-anchor="middle" fill="#111" font-family="Liberation Sans, sans-serif">N10</text>
<text x="316.6" y="1206.6" font-size="15.7" text-anchor="middle" fill="#111" font-family="Liberation Sans, sans-serif">N0</text>
<text x="490" y="1221.7" font-size="15.7" text-anchor="middle" fill="#111" font-family="Liberation Sans, sans-serif">N20</text>
<text x="312.2" y="1317.6" font-size="15.7" text-anchor="middle" fill="#111" font-family="Liberation Sans, sans-serif">D20</text>
<text x="254.4" y="1356.6" font-size="15.7" text-anchor="middle" fill="#111" font-family="Liberation Sans, sans-serif">D5</text>
<text x="290.2" y="1348.2" font-size="15.7" text-anchor="middle" fill="#111" font-family="Liberation Sans, sans-serif">D10</text>
<text x="208.4" y="1399.9" font-size="15.7" text-anchor="middle" fill="#111" font-family="Liberation Sans, sans-serif">D0</text>
<text x="563.8" y="1232.6" font-size="15.7" text-anchor="middle" fill="#111" font-family="Liberation Sans, sans-serif">D40</text>
<text x="563.8" y="1304.7" font-size="15.7" text-anchor="middle" fill="#111" font-family="Liberation Sans, sans-serif">N40</text>
<text x="474.6" y="1337.8" font-size="15.7" text-anchor="middle" fill="#111" font-family="Liberation Sans, sans-serif">N60</text>
<text x="502.6" y="1328.7" font-size="15.7" text-anchor="middle" fill="#111" font-family="Liberation Sans, sans-serif">D60</text>
<text x="541.8" y="1361.8" font-size="15.7" text-anchor="middle" fill="#111" font-family="Liberation Sans, sans-serif">D80</text>
<text x="587.8" y="1406.9" font-size="15.7" text-anchor="middle" fill="#111" font-family="Liberation Sans, sans-serif">N80</text>
<text x="454.2" y="1272" font-size="15.7" text-anchor="middle" fill="#111" font-family="Liberation Sans, sans-serif">N90</text>
<text x="439.4" y="1425.7" font-size="15.7" text-anchor="middle" fill="#111" font-family="Liberation Sans, sans-serif">N100</text>
<text x="386.1" y="1504.8" font-size="15.7" text-anchor="middle" fill="#111" font-family="Liberation Sans, sans-serif">N150</text>
<rect x="71.5" y="1121.1" width="653.1" height="432.4" fill="none" stroke="#555" stroke-width="1.5"/>
<text transform="translate(73.7,1145.5) scale(1,1.06)" font-size="27.7" font-family="Liberation Sans, sans-serif">18S rDNA OTUs</text>
<text transform="translate(549.2,1156.4) scale(1,1.05)" font-size="24.5" font-family="Liberation Sans, sans-serif"><tspan font-style="italic">Stress</tspan><tspan dx="4">= 0.11</tspan></text>
<text transform="translate(112.4,1488.2) scale(1,1.055)" font-size="24.5" font-family="Liberation Sans, sans-serif" xml:space="preserve"><tspan font-style="italic">R</tspan>  = 0.592</text>
<text transform="translate(112.4,1518) scale(1,1.055)" font-size="24.5" font-family="Liberation Sans, sans-serif" xml:space="preserve"><tspan font-style="italic">P</tspan>  = 0.001</text>
<path d="M553.2 1489.1H566.8L560 1500.8Z" fill="#00A087"/>
<rect x="554.7" y="1511.5" width="10.6" height="10.6" fill="#4DBBD5"/>
<path d="M560 1532.8L566.5 1539.3L560 1545.8L553.5 1539.3Z" fill="#E64B35"/>
<text x="579" y="1498.8" font-size="14.2" fill="#111" font-family="Liberation Sans, sans-serif">upper oxic layer</text>
<text x="579" y="1521.3" font-size="14.2" fill="#111" font-family="Liberation Sans, sans-serif">middle oxic layer</text>
<text x="579" y="1543.8" font-size="14.2" fill="#111" font-family="Liberation Sans, sans-serif">suboxic-anoxic layer</text>
<polygon points="1363.5,1271 1325.1,1337.7 1296.8,1419 1219.5,1428.5 1217.8,1427.3 1178.2,1408.4 1204.2,1378.6" fill="#CCECE7"/>
<polygon points="1150.4,1247.3 1194,1316.5 1177.4,1359.6 1173.1,1359.1 1135.5,1289.2" fill="#DBF1F7"/>
<polygon points="820.2,1352.9 947.6,1330.8 1126.1,1362.9" fill="#FADBD5"/>
<path d="M1356.7 1265.8H1370.3L1363.5 1277.5Z" fill="#00A087"/>
<path d="M1322.6 1297.4H1336.2L1329.4 1309.1Z" fill="#00A087"/>
<path d="M1318.3 1332.5H1331.9L1325.1 1344.2Z" fill="#00A087"/>
<path d="M1197.4 1373.4H1211L1204.2 1385.1Z" fill="#00A087"/>
<path d="M1171.4 1403.2H1185L1178.2 1414.9Z" fill="#00A087"/>
<path d="M1211 1422.1H1224.6L1217.8 1433.8Z" fill="#00A087"/>
<path d="M1212.7 1423.3H1226.3L1219.5 1435Z" fill="#00A087"/>
<path d="M1290 1413.8H1303.6L1296.8 1425.5Z" fill="#00A087"/>
<rect x="1145.1" y="1242" width="10.6" height="10.6" fill="#4DBBD5"/>
<rect x="1130.2" y="1283.9" width="10.6" height="10.6" fill="#4DBBD5"/>
<rect x="1147.9" y="1300.1" width="10.6" height="10.6" fill="#4DBBD5"/>
<rect x="1188.7" y="1311.2" width="10.6" height="10.6" fill="#4DBBD5"/>
<rect x="1167.8" y="1353.8" width="10.6" height="10.6" fill="#4DBBD5"/>
<rect x="1172.1" y="1354.3" width="10.6" height="10.6" fill="#4DBBD5"/>
<path d="M820.2 1346.4L826.7 1352.9L820.2 1359.4L813.7 1352.9Z" fill="#E64B35"/>
<path d="M947.6 1324.3L954.1 1330.8L947.6 1337.3L941.1 1330.8Z" fill="#E64B35"/>
<path d="M1126.1 1356.4L1132.6 1362.9L1126.1 1369.4L1119.6 1362.9Z" fill="#E64B35"/>
<text x="1363.3" y="1256.9" font-size="15.7" text-anchor="middle" fill="#111" font-family="Liberation Sans, sans-serif">D0</text>
<text x="1329.3" y="1288.7" font-size="15.7" text-anchor="middle" fill="#111" font-family="Liberation Sans, sans-serif">D5</text>
<text x="1324.9" y="1324.1" font-size="15.7" text-anchor="middle" fill="#111" font-family="Liberation Sans, sans-serif">D20</text>
<text x="1204.3" y="1364.7" font-size="15.7" text-anchor="middle" fill="#111" font-family="Liberation Sans, sans-serif">D10</text>
<text x="1178.3" y="1394.5" font-size="15.7" text-anchor="middle" fill="#111" font-family="Liberation Sans, sans-serif">N20</text>
<text x="1216.9" y="1414.2" font-size="15.7" text-anchor="middle" fill="#111" font-family="Liberation Sans, sans-serif">N0</text>
<text x="1243.2" y="1420.5" font-size="15.7" text-anchor="middle" fill="#111" font-family="Liberation Sans, sans-serif">N5</text>
<text x="1297" y="1404.1" font-size="15.7" text-anchor="middle" fill="#111" font-family="Liberation Sans, sans-serif">N10</text>
<text x="1150.5" y="1233" font-size="15.7" text-anchor="middle" fill="#111" font-family="Liberation Sans, sans-serif">D80</text>
<text x="1135.4" y="1275.9" font-size="15.7" text-anchor="middle" fill="#111" font-family="Liberation Sans, sans-serif">D60</text>
<text x="1155" y="1291.3" font-size="15.7" text-anchor="middle" fill="#111" font-family="Liberation Sans, sans-serif">N80</text>
<text x="1194.4" y="1302.6" font-size="15.7" text-anchor="middle" fill="#111" font-family="Liberation Sans, sans-serif">D40</text>
<text x="1162" y="1349.5" font-size="15.7" text-anchor="middle" fill="#111" font-family="Liberation Sans, sans-serif">N40</text>
<text x="1194.2" y="1345.2" font-size="15.7" text-anchor="middle" fill="#111" font-family="Liberation Sans, sans-serif">N60</text>
<text x="820.6" y="1338.9" font-size="15.7" text-anchor="middle" fill="#111" font-family="Liberation Sans, sans-serif">N150</text>
<text x="947.7" y="1316" font-size="15.7" text-anchor="middle" fill="#111" font-family="Liberation Sans, sans-serif">N100</text>
<text x="1126" y="1349.5" font-size="15.7" text-anchor="middle" fill="#111" font-family="Liberation Sans, sans-serif">N90</text>
<rect x="765.5" y="1121.2" width="651.5" height="432.3" fill="none" stroke="#555" stroke-width="1.5"/>
<text transform="translate(766.5,1148) scale(1,1.06)" font-size="27.7" font-family="Liberation Sans, sans-serif">16S rDNA OTUs</text>
<text transform="translate(1242.3,1156.9) scale(1,1.05)" font-size="24.5" font-family="Liberation Sans, sans-serif"><tspan font-style="italic">Stress</tspan><tspan dx="4">= 0.09</tspan></text>
<text transform="translate(807,1493.8) scale(1,1.055)" font-size="24.5" font-family="Liberation Sans, sans-serif" xml:space="preserve"><tspan font-style="italic">R</tspan>  = 0.552</text>
<text transform="translate(807,1523.6) scale(1,1.055)" font-size="24.5" font-family="Liberation Sans, sans-serif" xml:space="preserve"><tspan font-style="italic">P</tspan>  = 0.001</text>
<path d="M1254.2 1488.3H1267.8L1261 1500Z" fill="#00A087"/>
<rect x="1255.7" y="1510.7" width="10.6" height="10.6" fill="#4DBBD5"/>
<path d="M1261 1532L1267.5 1538.5L1261 1545L1254.5 1538.5Z" fill="#E64B35"/>
<text x="1280" y="1498" font-size="14.2" fill="#111" font-family="Liberation Sans, sans-serif">upper oxic layer</text>
<text x="1280" y="1520.5" font-size="14.2" fill="#111" font-family="Liberation Sans, sans-serif">middle oxic layer</text>
<text x="1280" y="1543" font-size="14.2" fill="#111" font-family="Liberation Sans, sans-serif">suboxic-anoxic layer</text>
</svg></body></html>
